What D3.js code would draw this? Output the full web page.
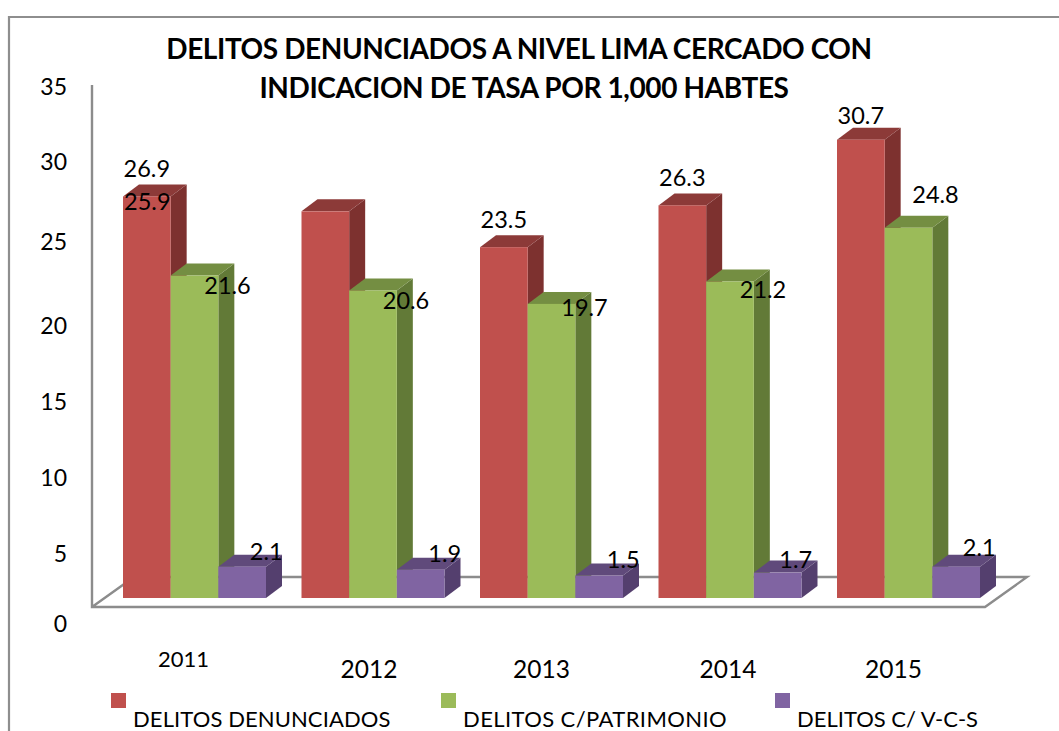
<!DOCTYPE html>
<html><head><meta charset="utf-8">
<script src="https://cdn.jsdelivr.net/npm/d3@7"></script>
<style>html,body{margin:0;padding:0;background:#fff}svg{display:block}text{font-family:Lato,"Open Sans",sans-serif;fill:#000}</style>
</head><body><svg id="c" width="1059" height="731"></svg>
<script>
const title = ["DELITOS DENUNCIADOS A NIVEL LIMA CERCADO CON","INDICACION DE TASA POR 1,000 HABTES"];
const years = ["2011","2012","2013","2014","2015"];
const seriesNames = ["DELITOS DENUNCIADOS","DELITOS C/PATRIMONIO","DELITOS C/ V-C-S"];
const denunciados = [26.9,25.9,23.5,26.3,30.7];
const patrimonio = [21.6,20.6,19.7,21.2,24.8];
const vcs = [2.1,1.9,1.5,1.7,2.1];
const yTicks = [0,5,10,15,20,25,30,35];

// layout and styling, kept apart from the data
const fills = [{front:"#C0504D",top:"#8C3A38",side:"#7D312F"},{front:"#9BBB59",top:"#748E42",side:"#627A37"},{front:"#8064A2",top:"#604A7B",side:"#543F6E"}];
const depthX = 16, depthY = 12;
const svg = d3.select("#c");
const y = d3.scaleLinear().domain([0,35]).range([598,75.5]);
const tickY = d3.scaleLinear().domain([0,35]).range([623,86]);
const tickNudge = [0,7,7,8,9,2,-2,0];
const x0 = d3.scaleBand().domain(years).range([123,123+178.5*5]);
const x1 = d3.scaleBand().domain(d3.range(3)).range([0,143]);
const values = [denunciados,patrimonio,vcs];

// frame
svg.append("path").attr("d","M9,731V17H1059").attr("fill","none").attr("stroke","#8e8e8e").attr("stroke-width",2.2);

// floor and axis
const g = "#8c8c8c";
svg.append("path").attr("d","M92,85V607H985L1027,577H134L92,607").attr("fill","none").attr("stroke",g).attr("stroke-width",2.4);

// bars
const labelNudge = [
 [[0,-28],[-178,-10],[0,-28],[0,-28],[0,-25]],
 [[33,9],[33,10],[33,3],[33,7],[27,-34]],
 [[24,-16],[24,-17],[24,-17],[18,-14],[23,-20]]
];
const groups = svg.selectAll("g.year").data(years).join("g").attr("transform",d=>`translate(${x0(d)},0)`);
values.forEach((vals,s)=>{
  const bw = x1.bandwidth(), X = x1(s), f = fills[s];
  groups.each(function(d,i){
    const gg = d3.select(this), v = vals[i], T = y(v), B = y(0);
    gg.append("path").attr("fill",f.side).attr("d",`M${X+bw},${T}l${depthX},${-depthY}V${B-depthY}l${-depthX},${depthY}Z`);
    gg.append("path").attr("fill",f.top).attr("d",`M${X},${T}l${depthX},${-depthY}h${bw}l${-depthX},${depthY}Z`);
    gg.append("rect").attr("x",X).attr("y",T).attr("width",bw).attr("height",B-T).attr("fill",f.front);
  });
});
// data labels on top
values.forEach((vals,s)=>{
  vals.forEach((v,i)=>{
    const n = labelNudge[s][i];
    svg.append("text").attr("x",x0(years[i])+x1(s)+x1.bandwidth()/2+n[0]).attr("y",y(v)+n[1])
      .attr("text-anchor","middle").attr("dominant-baseline","central").attr("font-size",23.5).text(v.toFixed(1));
  });
});

// y tick labels
yTicks.forEach((t,i)=>{
  svg.append("text").attr("x",67).attr("y",tickY(t)+tickNudge[i]).attr("text-anchor","end")
    .attr("dominant-baseline","central").attr("font-size",23).text(t);
});

// category labels
const catNudge = [[-11,-10,22],[-4,0,24.5],[-10,0,24.5],[-2,0,24.5],[-15,0,24.5]];
years.forEach((d,i)=>{
  const n = catNudge[i];
  svg.append("text").attr("x",x0(d)+71.5+n[0]).attr("y",668+n[1]).attr("text-anchor","middle")
    .attr("dominant-baseline","central").attr("font-size",n[2]).text(d);
});

// title
title.forEach((t,i)=>{
  svg.append("text").attr("x",[519,524][i]).attr("y",[48,87][i]).attr("text-anchor","middle")
   .attr("dominant-baseline","central").attr("font-size",28).attr("font-weight",700).attr("letter-spacing",-0.4).text(t);
});

// legend
const legSwatch=[111,441,775], legText=[133,463,797], legSpacing=[0.1,0.4,0];
seriesNames.forEach((t,i)=>{
  svg.append("rect").attr("x",legSwatch[i]).attr("y",693).attr("width",15).attr("height",15).attr("fill",fills[i].front);
  svg.append("text").attr("x",legText[i]).attr("y",726.5).attr("font-size",22).attr("letter-spacing",legSpacing[i]).text(t);
});
</script></body></html>
